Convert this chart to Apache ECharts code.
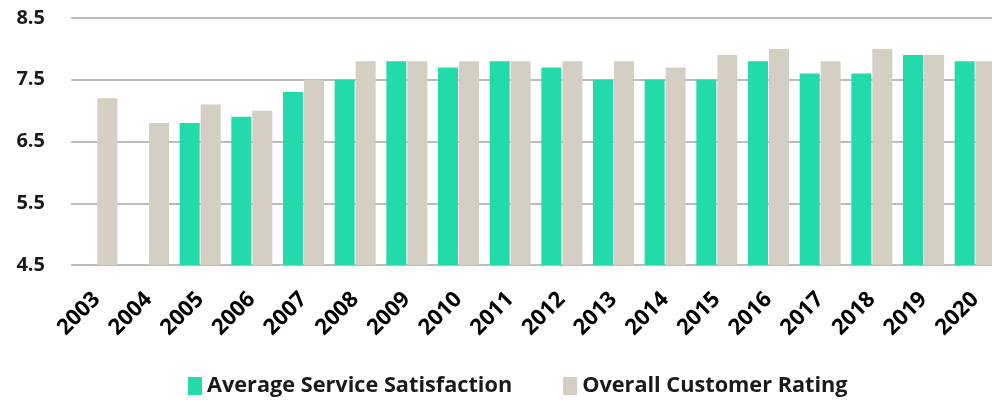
<!DOCTYPE html>
<html><head><meta charset="utf-8">
<script src="https://cdn.jsdelivr.net/npm/echarts@6/dist/echarts.min.js"></script>
<style>html,body{margin:0;padding:0;background:#fff;overflow:hidden;width:992px;height:400px}#c{width:1002px;height:400px}</style>
</head><body><div id="c"></div>
<script>
var years = ['2003','2004','2005','2006','2007','2008','2009','2010','2011','2012','2013','2014','2015','2016','2017','2018','2019','2020'];
var avgService = [null,null,6.8,6.9,7.3,7.5,7.8,7.7,7.8,7.7,7.5,7.5,7.5,7.8,7.6,7.6,7.9,7.8];
var overallRating = [7.2,6.8,7.1,7.0,7.5,7.8,7.8,7.8,7.8,7.8,7.8,7.7,7.9,8.0,7.8,8.0,7.9,7.8];
var yTicks = [4.5,5.5,6.5,7.5,8.5];

var chart = echarts.init(document.getElementById('c'), null, {renderer:'canvas'});
var font = "'Open Sans', 'Liberation Sans', sans-serif";
chart.setOption({
  animation:false,
  grid:{left:71,right:1,top:18,bottom:135,containLabel:false},
  legend:{
    top:370,left:183,itemWidth:14,itemHeight:18,itemGap:51,
    icon:'rect',
    textStyle:{fontFamily:font,fontWeight:'bold',fontSize:21.7,color:'#1a1a1a'},
    data:['Average Service Satisfaction','Overall Customer Rating']
  },
  xAxis:{
    type:'category',data:years,
    axisLine:{show:false},axisTick:{show:false},
    axisLabel:{rotate:45,interval:0,margin:31,fontFamily:font,fontWeight:'bold',fontSize:22,color:'#000'}
  },
  yAxis:{
    type:'value',min:yTicks[0],max:yTicks[yTicks.length-1],interval:1,
    axisLine:{show:false},axisTick:{show:false},
    axisLabel:{margin:26,fontFamily:font,fontWeight:'bold',fontSize:20,color:'#1a1a1a',formatter:function(v){return v.toFixed(1);}},
    splitLine:{lineStyle:{color:'#a6a6a6',width:1.5}}
  },
  series:[
    {name:'Average Service Satisfaction',type:'bar',data:avgService,barWidth:20,barGap:'5%',itemStyle:{color:'#22DAAA'}},
    {name:'Overall Customer Rating',type:'bar',data:overallRating,barWidth:20,itemStyle:{color:'#D5CEC3'}}
  ]
});
</script></body></html>
